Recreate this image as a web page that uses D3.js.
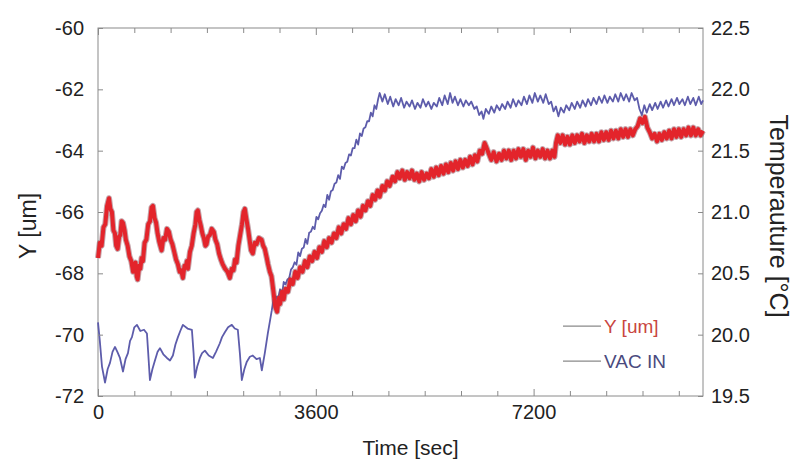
<!DOCTYPE html>
<html>
<head>
<meta charset="utf-8">
<script src="https://cdn.jsdelivr.net/npm/d3@7"></script>
<style>
  body { margin: 0; background: #fff; }
  svg { display: block; font-family: "Liberation Sans", Arial, sans-serif; }
  .axis path, .axis line { stroke: #8a8a8a; }
  .axis text { fill: #222; font-size: 20px; }
</style>
</head>
<body>
<svg id="chart" width="792" height="464"></svg>
<script>
// time [sec], Y [um]
const yTimes = [0, 30, 60, 90, 120, 150, 182, 205, 230, 255, 280, 300, 325, 350, 370, 390, 413, 440, 460, 490, 520, 550, 580, 600, 620, 640, 655, 680, 700, 720, 743, 770, 800, 830, 860, 885, 908, 935, 960, 985, 1010, 1030, 1052, 1080, 1110, 1140, 1172, 1200, 1230, 1260, 1290, 1320, 1350, 1375, 1403, 1430, 1450, 1470, 1486, 1520, 1550, 1580, 1610, 1630, 1651, 1675, 1700, 1725, 1750, 1775, 1795, 1820, 1850, 1880, 1915, 1940, 1970, 2000, 2031, 2060, 2100, 2140, 2179, 2210, 2240, 2265, 2290, 2320, 2350, 2380, 2405, 2427, 2450, 2480, 2505, 2530, 2559, 2590, 2620, 2660, 2703, 2730, 2757, 2790, 2810, 2840,
  2868, 2900, 2930, 2960, 2990, 3010, 3040, 3070, 3100, 3140, 3180, 3219, 3260, 3300, 3340, 3380, 3420, 3460, 3500, 3540, 3580, 3620, 3660, 3700, 3740, 3781, 3820, 3860, 3900, 3940, 3980, 4020, 4060, 4100, 4140, 4180, 4220, 4260, 4300, 4340, 4380, 4420, 4460, 4500, 4540, 4580, 4620, 4656, 4700, 4740, 4780, 4820, 4870, 4910, 4950, 4986,
  5030, 5070, 5110, 5150, 5190, 5230, 5270, 5310, 5350, 5390, 5432, 5470, 5510, 5550, 5590, 5630, 5670, 5710, 5750, 5790, 5830, 5870, 5910, 5950, 5990, 6030, 6070, 6110, 6150, 6190, 6230, 6270, 6310, 6350, 6390, 6422, 6460, 6500, 6540, 6587, 6630, 6670, 6710, 6750, 6790, 6830, 6870, 6910, 6950, 6990, 7030, 7070, 7110, 7150, 7190, 7230, 7270, 7310, 7350, 7390, 7430, 7470, 7510, 7545, 7570, 7600, 7640, 7680, 7720, 7760, 7800, 7840, 7880, 7920, 7960,
  8000, 8040, 8080, 8120, 8160, 8200, 8240, 8280, 8320, 8360, 8400, 8440, 8480, 8520, 8560, 8600, 8640, 8680, 8720, 8760, 8800, 8840, 8880, 8920, 8960, 9000, 9040, 9080, 9120, 9160, 9200, 9240, 9280, 9320, 9360, 9400, 9440, 9480, 9520, 9560, 9600, 9640, 9680, 9720, 9760, 9800, 9840, 9880, 9920, 9960, 10000];
const yValues = [-67.5, -67.0, -67.1, -66.5, -66.4, -65.8, -65.55, -65.9, -66.0, -66.6, -66.7, -67.1, -67.2, -66.8, -66.75, -66.3, -66.35, -66.6, -66.9, -67.1, -67.45, -67.6, -67.95, -67.7, -67.65, -68.1, -68.2, -67.75, -67.85, -67.5, -67.6, -67.0, -66.9, -66.4, -66.3, -65.85, -65.8, -66.2, -66.35, -66.7, -66.95, -67.1, -67.25, -66.85, -66.9, -66.55, -66.65, -66.9, -67.05, -67.3, -67.55, -67.7, -67.95, -67.9, -68.15, -67.75, -67.8, -67.6, -67.85, -67.3, -67.1, -66.7, -66.4, -66.0, -65.95, -66.25, -66.45, -66.7, -66.85, -67.1, -67.05, -66.8, -66.75, -66.55, -66.65, -66.9, -67.05, -67.35, -67.55, -67.7, -67.85, -67.95, -68.15, -67.85, -67.9, -67.55, -67.65, -67.1, -66.75, -66.4, -66.0, -65.9, -66.2, -66.55, -66.9, -67.25, -67.35, -67.0, -67.05, -66.85, -66.9, -67.1, -67.2, -67.5, -67.7, -67.95,
  -68.1, -68.6, -69.1, -69.25, -68.8, -69.0, -68.6, -68.85, -68.5, -68.6, -68.2, -68.35, -67.95, -68.15, -67.8, -67.95, -67.6, -67.8, -67.45, -67.6, -67.3, -67.5, -67.15, -67.3, -66.95, -67.15, -66.85, -67.0, -66.7, -66.85, -66.5, -66.7, -66.4, -66.55, -66.2, -66.4, -66.1, -66.3, -65.95, -66.15, -65.8, -65.95, -65.65, -65.8, -65.45, -65.6, -65.3, -65.5, -65.15, -65.3, -65.0, -65.15, -64.85, -65.0, -64.7, -64.9,
  -64.65, -64.95, -64.7, -64.9, -64.65, -64.95, -64.75, -65.0, -64.7, -64.95, -64.75, -64.9, -64.6, -64.85, -64.55, -64.8, -64.5, -64.75, -64.45, -64.7, -64.4, -64.65, -64.35, -64.6, -64.3, -64.55, -64.3, -64.5, -64.2, -64.45, -64.15, -64.35, -64.0, -64.1, -63.75, -63.9, -64.1, -64.3, -64.05, -64.35, -64.1, -64.3, -64.0, -64.25, -64.0, -64.3, -64.0, -64.25, -63.95, -64.2, -63.95, -64.3, -64.0, -64.2, -63.9, -64.25, -64.0, -64.2, -63.95, -64.25, -64.0, -64.25, -64.0, -64.2, -63.75, -63.5, -63.75, -63.5, -63.8, -63.55, -63.8, -63.5, -63.75, -63.5, -63.7,
  -63.45, -63.75, -63.5, -63.7, -63.45, -63.7, -63.45, -63.7, -63.4, -63.65, -63.4, -63.65, -63.35, -63.6, -63.35, -63.6, -63.3, -63.55, -63.3, -63.55, -63.3, -63.5, -63.3, -63.2, -62.95, -63.1, -62.9, -63.25, -63.4, -63.6, -63.45, -63.7, -63.45, -63.65, -63.4, -63.6, -63.35, -63.6, -63.3, -63.55, -63.3, -63.55, -63.3, -63.5, -63.25, -63.5, -63.25, -63.5, -63.3, -63.5, -63.35];

// time [sec], VAC IN temperature [C]
const tTimes = [0, 30, 66, 116, 160, 198, 240, 281, 320, 363, 413, 455, 495, 530, 561, 600, 644, 700, 760, 809, 830, 858, 900, 941, 985, 1024, 1080, 1139, 1190, 1238, 1280, 1321, 1360, 1403, 1480, 1552, 1580, 1601, 1640, 1684, 1720, 1767, 1830, 1899, 1950, 2014, 2050, 2097, 2150, 2212, 2260, 2311, 2345, 2377, 2420, 2460, 2510, 2559, 2620, 2675, 2708, 2757, 2807,
  2873, 2900, 2922, 2950, 2980, 3010, 3040, 3070, 3100, 3130, 3160, 3190, 3220, 3250, 3280, 3310, 3340, 3370, 3400, 3430, 3460, 3490, 3520, 3550, 3580, 3610, 3640, 3670, 3700, 3730, 3760, 3790, 3820, 3850, 3880, 3910, 3940, 3970, 4000, 4030, 4060, 4090, 4120, 4150, 4180, 4210, 4240, 4270, 4300, 4330, 4360, 4390, 4420, 4450, 4480, 4510, 4540, 4570, 4600, 4630,
  4656, 4700, 4740, 4790, 4830, 4880, 4920, 4970, 5010, 5060, 5100, 5150, 5190, 5240, 5280, 5330, 5370, 5420, 5460, 5510, 5550, 5600, 5640, 5690, 5730, 5780, 5820, 5860, 5900, 5950, 5990, 6040, 6080, 6130, 6170, 6220, 6260, 6300, 6340, 6370, 6410, 6460, 6500, 6550, 6590, 6640, 6680, 6730, 6770, 6820, 6860, 6910, 6950, 7000, 7040, 7090, 7130, 7180, 7220, 7270, 7310, 7360, 7400, 7450, 7490, 7530, 7570, 7610, 7650, 7700, 7740, 7790, 7830, 7880, 7920, 7970,
  8010, 8060, 8100, 8150, 8190, 8240, 8280, 8330, 8370, 8420, 8460, 8510, 8550, 8600, 8640, 8690, 8730, 8780, 8820, 8870, 8910, 8950, 8990, 9030, 9070, 9120, 9160, 9210, 9250, 9300, 9340, 9390, 9430, 9480, 9520, 9570, 9610, 9660, 9700, 9750, 9790, 9840, 9880, 9930, 9970, 10000];
const tValues = [20.10, 19.95, 19.74, 19.61, 19.72, 19.77, 19.86, 19.90, 19.86, 19.81, 19.70, 19.80, 19.85, 19.95, 19.98, 20.06, 20.08, 20.03, 20.04, 20.01, 19.85, 19.63, 19.72, 19.79, 19.86, 19.89, 19.84, 19.81, 19.79, 19.83, 19.92, 19.98, 20.03, 20.08, 20.05, 20.04, 19.85, 19.65, 19.74, 19.81, 19.85, 19.87, 19.83, 19.81, 19.86, 19.93, 19.98, 20.02, 20.06, 20.08, 20.05, 20.04, 19.85, 19.63, 19.72, 19.78, 19.82, 19.83, 19.80, 19.81, 19.71, 19.85, 20.01,
  20.20, 20.29, 20.25, 20.31, 20.30, 20.37, 20.32, 20.43, 20.41, 20.45, 20.46, 20.53, 20.55, 20.59, 20.57, 20.67, 20.64, 20.70, 20.71, 20.78, 20.74, 20.83, 20.84, 20.88, 20.86, 20.96, 20.94, 20.99, 21.01, 21.06, 21.04, 21.14, 21.10, 21.17, 21.18, 21.23, 21.24, 21.30, 21.27, 21.37, 21.35, 21.40, 21.41, 21.47, 21.46, 21.52, 21.52, 21.59, 21.55, 21.64, 21.62, 21.68, 21.69, 21.74, 21.74, 21.81, 21.78, 21.87, 21.84, 21.92,
  21.97, 21.90, 21.96, 21.88, 21.94, 21.86, 21.92, 21.87, 21.93, 21.85, 21.90, 21.86, 21.91, 21.84, 21.89, 21.85, 21.92, 21.86, 21.90, 21.84, 21.89, 21.86, 21.93, 21.87, 21.95, 21.88, 21.97, 21.89, 21.94, 21.87, 21.92, 21.86, 21.91, 21.87, 21.90, 21.84, 21.86, 21.79, 21.82, 21.76, 21.84, 21.80, 21.86, 21.81, 21.87, 21.83, 21.88, 21.84, 21.90, 21.85, 21.92, 21.86, 21.91, 21.87, 21.94, 21.88, 21.95, 21.89, 21.97, 21.90, 21.95, 21.89, 21.96, 21.88, 21.90, 21.82, 21.86, 21.78, 21.85, 21.81, 21.87, 21.83, 21.89, 21.84, 21.90, 21.85,
  21.91, 21.86, 21.92, 21.87, 21.93, 21.88, 21.94, 21.89, 21.95, 21.89, 21.94, 21.90, 21.96, 21.90, 21.97, 21.91, 21.96, 21.90, 21.97, 21.91, 21.93, 21.84, 21.79, 21.87, 21.81, 21.88, 21.83, 21.89, 21.84, 21.90, 21.85, 21.91, 21.86, 21.92, 21.87, 21.93, 21.88, 21.92, 21.87, 21.94, 21.88, 21.93, 21.87, 21.94, 21.88, 21.91];

const xMajorTicks = [0, 3600, 7200];
const xMinorTicks = d3.range(0, 10001, 600);
const yLeftTicks = [-72, -70, -68, -66, -64, -62, -60];
const yRightTicks = [19.5, 20.0, 20.5, 21.0, 21.5, 22.0, 22.5];
const legendLabels = ["Y [um]", "VAC IN"];

const margins = { top: 28, right: 89, bottom: 68, left: 98 };
const colours = {
  yLine: "#e3242b",
  yEdge: "#8c4a55",
  tLine: "#5d5cab",
  frame: "#8a8a8a",
  legendY: "#c9463f",
  legendT: "#4a4a7e",
};

const svg = d3.select("#chart");
const width = +svg.attr("width") - margins.left - margins.right;
const height = +svg.attr("height") - margins.top - margins.bottom;

const g = svg.append("g").attr("transform", `translate(${margins.left},${margins.top})`);

const x = d3.scaleLinear().domain([0, 10000]).range([0, width]);
const yL = d3.scaleLinear().domain([-72, -60]).range([height, 0]);
const yR = d3.scaleLinear().domain([19.5, 22.5]).range([height, 0]);

const yData = yTimes.map((t, i) => ({ t, v: yValues[i] }));
const tData = tTimes.map((t, i) => ({ t, v: tValues[i] }));

// frame
g.append("rect")
  .attr("width", width)
  .attr("height", height)
  .attr("fill", "none")
  .attr("stroke", colours.frame);

// series
const lineY = d3.line().x((d) => x(d.t)).y((d) => yL(d.v));
const lineT = d3.line().x((d) => x(d.t)).y((d) => yR(d.v));

g.append("path")
  .datum(tData)
  .attr("d", lineT)
  .attr("fill", "none")
  .attr("stroke", colours.tLine)
  .attr("stroke-width", 1.8)
  .attr("stroke-linejoin", "round");

g.append("path")
  .datum(yData)
  .attr("d", lineY)
  .attr("fill", "none")
  .attr("stroke", colours.yEdge)
  .attr("stroke-opacity", 0.5)
  .attr("stroke-width", 6)
  .attr("stroke-linejoin", "round");

g.append("path")
  .datum(yData)
  .attr("d", lineY)
  .attr("fill", "none")
  .attr("stroke", colours.yLine)
  .attr("stroke-width", 4)
  .attr("stroke-linejoin", "round");

// axes, ticks point inward
const tickFmtX = (d) => (xMajorTicks.includes(d) ? d : "");

g.append("g")
  .attr("class", "axis")
  .attr("transform", `translate(0,${height})`)
  .call(d3.axisBottom(x).tickValues(xMinorTicks).tickSize(-5).tickPadding(9).tickFormat(tickFmtX))
  .call((a) => a.select(".domain").remove())
  .call((a) => a.selectAll(".tick line").filter((d) => xMajorTicks.includes(d)).attr("y2", -7));

g.append("g")
  .attr("class", "axis")
  .call(d3.axisTop(x).tickValues(xMinorTicks).tickSize(-5).tickFormat(""))
  .call((a) => a.select(".domain").remove())
  .call((a) => a.selectAll(".tick line").filter((d) => xMajorTicks.includes(d)).attr("y2", 7));

g.append("g")
  .attr("class", "axis")
  .call(d3.axisLeft(yL).tickValues(yLeftTicks).tickSize(-5).tickPadding(14).tickFormat((d) => `${d}`))
  .call((a) => a.select(".domain").remove());

g.append("g")
  .attr("class", "axis")
  .attr("transform", `translate(${width},0)`)
  .call(d3.axisRight(yR).tickValues(yRightTicks).tickSize(-5).tickPadding(8).tickFormat(d3.format(".1f")))
  .call((a) => a.select(".domain").remove());

// axis titles
svg.append("text")
  .attr("x", margins.left + width / 2 + 10)
  .attr("y", 455)
  .attr("text-anchor", "middle")
  .attr("font-size", 21)
  .attr("fill", "#222")
  .text("Time [sec]");

svg.append("text")
  .attr("transform", `translate(36,${margins.top + height / 2 + 14}) rotate(-90)`)
  .attr("text-anchor", "middle")
  .attr("font-size", 23)
  .attr("fill", "#222")
  .text("Y [um]");

svg.append("text")
  .attr("transform", `translate(770,${margins.top + height / 2 + 4}) rotate(90)`)
  .attr("text-anchor", "middle")
  .attr("font-size", 25)
  .attr("fill", "#222")
  .text("Temperauture [°C]");

// legend
const legend = g.append("g").attr("transform", `translate(${x(7686)},${yL(-69.72)})`);
legendLabels.forEach((label, i) => {
  const row = legend.append("g").attr("transform", `translate(0,${i * 35})`);
  row.append("line")
    .attr("x1", 0)
    .attr("x2", 38)
    .attr("stroke", "#8a8a8a")
    .attr("stroke-width", 1.2);
  row.append("text")
    .attr("x", 41)
    .attr("y", 7)
    .attr("font-size", 19)
    .attr("fill", i === 0 ? colours.legendY : colours.legendT)
    .text(label);
});
</script>
</body>
</html>
